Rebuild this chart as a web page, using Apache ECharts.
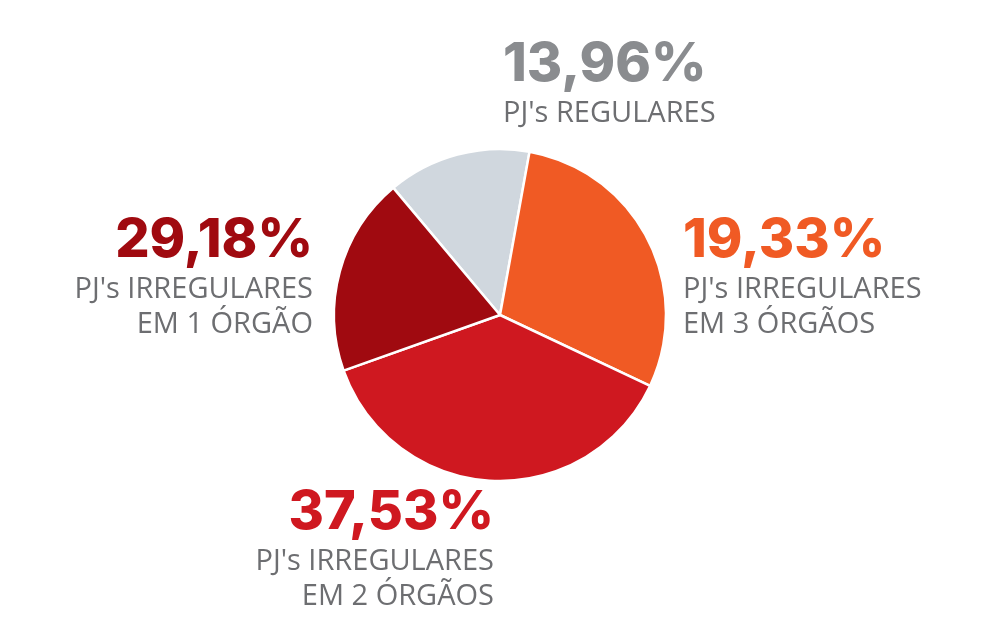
<!DOCTYPE html>
<html><head><meta charset="utf-8">
<script src="https://cdn.jsdelivr.net/npm/echarts@6/dist/echarts.min.js"></script>
<style>html,body{margin:0;background:#fff}#c{width:1000px;height:644px}</style>
</head><body><div id="c"></div>
<script>
const categories = ["PJ's REGULARES", "PJ's IRREGULARES EM 3 ÓRGÃOS", "PJ's IRREGULARES EM 2 ÓRGÃOS", "PJ's IRREGULARES EM 1 ÓRGÃO"];
const sliceValues = [13.96, 29.18, 37.53, 19.33];
const labelPercents = ["13,96%", "19,33%", "37,53%", "29,18%"];
const labelLines = [["PJ's REGULARES"], ["PJ's IRREGULARES", "EM 3 ÓRGÃOS"], ["PJ's IRREGULARES", "EM 2 ÓRGÃOS"], ["PJ's IRREGULARES", "EM 1 ÓRGÃO"]];
const colors = ['#d0d7de', '#f05a24', '#cf1820', '#a00a10'];
const pctColors = ['#8a8c8f', '#f05a24', '#cf1820', '#a00a10'];
const anchors = [{x:503,y:92,a:'left'},{x:683,y:268,a:'left'},{x:494,y:540,a:'right'},{x:313,y:268,a:'right'}];
const graphics = [];
anchors.forEach((p,i)=>{
  graphics.push({type:'text',left:null,x:p.x,y:p.y,style:{text:labelPercents[i],fill:pctColors[i],font:'800 54px Inter, "Open Sans", sans-serif',textAlign:p.a,textVerticalAlign:'bottom'}});
  labelLines[i].forEach((t,j)=>{
    graphics.push({type:'text',x:p.x,y:p.y+36+j*35,style:{text:t,fill:'#6d6e71',font:'400 29px "Open Sans", sans-serif',textAlign:p.a,textVerticalAlign:'bottom'}});
  });
});
const chart = echarts.init(document.getElementById('c'));
chart.setOption({
  animation:false,
  series:[{type:'pie',center:[500,315],radius:[0,166],startAngle:130,clockwise:true,
    label:{show:false},labelLine:{show:false},
    itemStyle:{borderColor:'#fff',borderWidth:2.5},
    data:categories.map((n,i)=>({name:n,value:sliceValues[i],itemStyle:{color:colors[i]}}))}],
  graphic:graphics
});
</script></body></html>
